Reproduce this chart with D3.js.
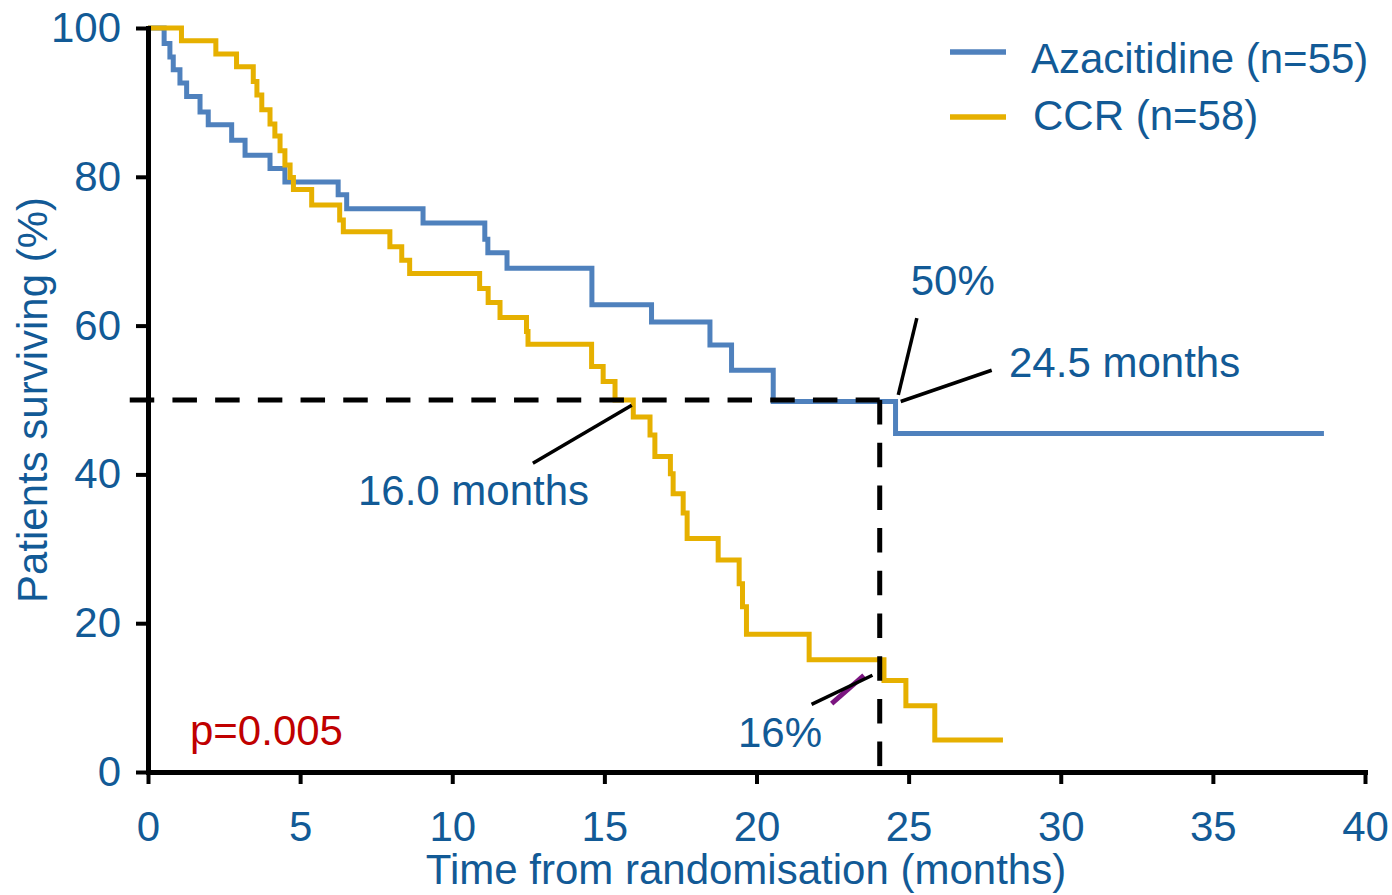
<!DOCTYPE html>
<html>
<head>
<meta charset="utf-8">
<script src="https://cdn.jsdelivr.net/npm/d3@7"></script>
<style>
  body { margin: 0; background: #fff; }
  text { font-family: "Liberation Sans", Arial, sans-serif; }
</style>
</head>
<body>
<div id="chart"></div>
<script>
// Kaplan-Meier steps (months, % surviving)
const azaTime = [0, 0.53, 0.72, 0.83, 1.05, 1.27, 1.71, 1.98, 2.75, 3.19, 4.01, 4.50, 6.25, 6.53, 9.04, 11.07, 11.17, 11.8, 14.59, 16.55, 18.47, 19.18, 20.55, 24.57, 38.65]
const azaSurv = [100, 97.9, 96.1, 94.4, 92.6, 90.8, 88.7, 87.0, 84.9, 82.9, 81.1, 79.3, 77.6, 75.7, 73.8, 71.6, 69.8, 67.7, 62.8, 60.5, 57.4, 54.0, 49.8, 45.5, 45.5]

const ccrTime = [0, 1.1, 2.23, 2.91, 3.46, 3.58, 3.74, 4.01, 4.17, 4.34, 4.5, 4.67, 4.78, 5.38, 6.3, 6.42, 7.95, 8.34, 8.6, 10.9, 11.18, 11.57, 12.44, 12.49, 14.58, 14.96, 15.35, 15.95, 16.5, 16.66, 17.17, 17.26, 17.59, 17.72, 18.74, 19.43, 19.54, 19.67, 21.73, 24.19, 24.91, 25.86, 28.1]
const ccrSurv = [100, 98.3, 96.5, 94.8, 92.8, 91.0, 89.0, 87.1, 85.5, 83.5, 81.6, 79.9, 78.3, 76.2, 74.2, 72.6, 70.6, 68.8, 67.0, 65.0, 63.1, 61.1, 59.2, 57.5, 54.5, 52.5, 50.0, 47.7, 45.3, 42.4, 40.1, 37.4, 34.8, 31.4, 28.5, 25.3, 22.2, 18.5, 15.1, 12.3, 8.9, 4.3, 4.3]

const seriesNames = ['Azacitidine (n=55)', 'CCR (n=58)']
const xTicks = [0, 5, 10, 15, 20, 25, 30, 35, 40]
const yTicks = [0, 20, 40, 60, 80, 100]

// reference lines: 50% survival and the 24 month landmark
const halfLevel = 50
const landmark = 24.05
const hLineStart = -0.6

// annotation leaders [t1, v1, t2, v2]
const leader160 = [12.65, 41.5, 15.9, 49.3]
const leader50 = [25.27, 61.0, 24.66, 50.7]
const leader245 = [24.74, 49.8, 27.73, 54.0]
const leader16 = [21.81, 9.1, 23.81, 13.0]
const purpleTick = [22.47, 9.2, 23.53, 13.0]

const textBlue = '#125a96'
const azaColor = '#4f81bd'
const ccrColor = '#e6b000'

const svg = d3.select('#chart').append('svg')
  .attr('width', 1392)
  .attr('height', 895)

const x = d3.scaleLinear().domain([0, 40]).range([148, 1365])
const y = d3.scaleLinear().domain([0, 100]).range([772, 28])

const stepLine = d3.line()
  .x(d => x(d[0]))
  .y(d => y(d[1]))
  .curve(d3.curveStepAfter)

svg.append('path')
  .attr('d', stepLine(azaTime.map((t, i) => [t, azaSurv[i]])))
  .attr('fill', 'none')
  .attr('stroke', azaColor)
  .attr('stroke-width', 5)

svg.append('path')
  .attr('d', stepLine(ccrTime.map((t, i) => [t, ccrSurv[i]])))
  .attr('fill', 'none')
  .attr('stroke', ccrColor)
  .attr('stroke-width', 5)

// axes
const yAxis = svg.append('g')
  .attr('transform', `translate(${x(0)},0)`)
  .call(d3.axisLeft(y).tickValues(yTicks).tickSize(12).tickPadding(15).tickSizeOuter(0))
yAxis.attr('font-size', 42).attr('font-family', '"Liberation Sans", Arial, sans-serif')
yAxis.select('.domain').attr('stroke', '#000').attr('stroke-width', 5).attr('stroke-linecap', 'square')
yAxis.selectAll('.tick line').attr('stroke', '#000').attr('stroke-width', 4)
yAxis.selectAll('.tick text').attr('fill', textBlue)

const xAxis = svg.append('g')
  .attr('transform', `translate(0,${y(0)})`)
  .call(d3.axisBottom(x).tickValues(xTicks).tickSize(12).tickPadding(27).tickSizeOuter(0))
xAxis.attr('font-size', 42).attr('font-family', '"Liberation Sans", Arial, sans-serif')
xAxis.select('.domain').attr('stroke', '#000').attr('stroke-width', 5).attr('stroke-linecap', 'square')
xAxis.selectAll('.tick line').attr('stroke', '#000').attr('stroke-width', 4)
xAxis.selectAll('.tick text').attr('fill', textBlue)

// axis titles
svg.append('text')
  .attr('transform', `translate(47,${y(50)}) rotate(-90)`)
  .attr('text-anchor', 'middle')
  .attr('font-size', 42)
  .attr('fill', textBlue)
  .text('Patients surviving (%)')

svg.append('text')
  .attr('x', 746)
  .attr('y', 884)
  .attr('text-anchor', 'middle')
  .attr('font-size', 42)
  .attr('fill', textBlue)
  .text('Time from randomisation (months)')

// dashed reference lines
svg.append('line')
  .attr('x1', x(hLineStart)).attr('y1', y(halfLevel))
  .attr('x2', x(landmark)).attr('y2', y(halfLevel))
  .attr('stroke', '#000')
  .attr('stroke-width', 5)
  .attr('stroke-dasharray', '24.5,18.2')

svg.append('line')
  .attr('x1', x(landmark)).attr('y1', y(halfLevel))
  .attr('x2', x(landmark)).attr('y2', y(0))
  .attr('stroke', '#000')
  .attr('stroke-width', 5)
  .attr('stroke-dasharray', '24.5,18.2')

// annotation leaders
function seg(s, color, w) {
  svg.append('line')
    .attr('x1', x(s[0])).attr('y1', y(s[1]))
    .attr('x2', x(s[2])).attr('y2', y(s[3]))
    .attr('stroke', color)
    .attr('stroke-width', w)
}
seg(purpleTick, '#7b1580', 5)
seg(leader160, '#000', 3.5)
seg(leader50, '#000', 3.5)
seg(leader245, '#000', 3.5)
seg(leader16, '#000', 3.5)

function note(t, v, txt, color) {
  svg.append('text')
    .attr('x', x(t))
    .attr('y', y(v))
    .attr('font-size', 42)
    .attr('fill', color)
    .text(txt)
}
note(6.9, 35.9, '16.0 months', textBlue)
note(25.07, 64.1, '50%', textBlue)
note(28.3, 53.1, '24.5 months', textBlue)
note(19.39, 3.4, '16%', textBlue)
note(1.38, 3.6, 'p=0.005', '#c00000')

// legend
const legend = svg.append('g')
const legendColors = [azaColor, ccrColor]
seriesNames.forEach((name, i) => {
  legend.append('line')
    .attr('x1', 950).attr('x2', 1006)
    .attr('y1', 52 + i * 65).attr('y2', 52 + i * 65)
    .attr('stroke', legendColors[i])
    .attr('stroke-width', 5.5)
  legend.append('text')
    .attr('x', 1031 + i * 2)
    .attr('y', 73 + i * 57)
    .attr('font-size', 42)
    .attr('fill', textBlue)
    .text(name)
})
</script>
</body>
</html>
